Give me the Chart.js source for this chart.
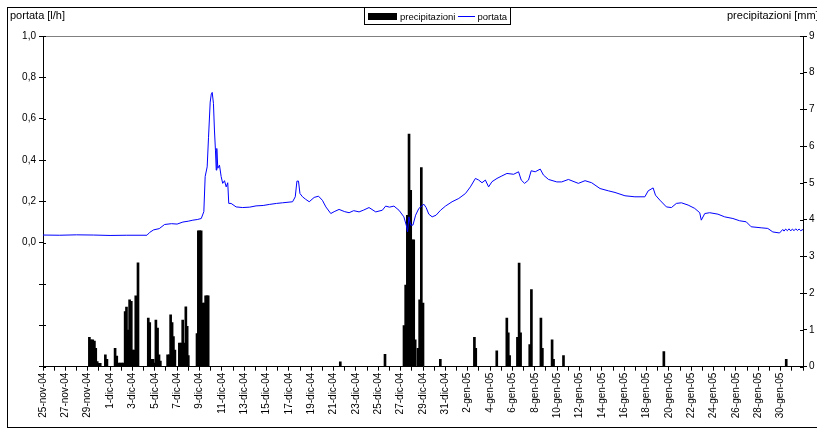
<!DOCTYPE html>
<html>
<head>
<meta charset="utf-8">
<script src="https://cdn.jsdelivr.net/npm/chart.js@4/dist/chart.umd.min.js"></script>
<style>
  html, body { margin: 0; padding: 0; background: #fff; }
  #wrap { width: 817px; height: 429px; position: relative; }
</style>
</head>
<body>
<div id="wrap"><canvas id="c" width="817" height="429"></canvas></div>
<script>
// Day offsets are counted from 25-nov-2004 00:00.
const startDate = Date.UTC(2004, 10, 25);
const monthNames = ['gen', 'feb', 'mar', 'apr', 'mag', 'giu', 'lug', 'ago', 'set', 'ott', 'nov', 'dic'];
const seriesNames = ['precipitazioni', 'portata'];
const leftTitle = 'portata [l/h]';
const rightTitle = 'precipitazioni [mm]';

// Discharge (l/h)
const flowDay = [0, 1.5, 3.0, 4.5, 6.0, 7.5, 9.3,
  9.55, 9.9, 10.4, 10.88, 11.5, 12.0, 12.52, 13.0, 13.41, 13.8, 14.16, 14.39, 14.51, 14.69, 14.81, 14.96, 15.06, 15.14, 15.25, 15.34, 15.43, 15.50, 15.55, 15.64, 15.79, 15.94, 16.08, 16.24, 16.39, 16.53, 16.62, 16.83, 17.28, 17.87, 18.5, 19.06, 19.7, 20.25, 20.9, 21.44, 22.33, 22.57, 22.72, 22.86, 22.99, 23.22, 23.5, 23.82, 24.26, 24.65, 25.0, 25.31, 25.75, 26.05, 26.49, 27.0, 27.39, 27.8, 28.28, 28.7, 29.17, 29.77, 30.36, 30.66, 31.0, 31.4, 31.85, 32.29, 32.5, 32.62, 32.74, 32.89, 33.10, 33.34, 33.63, 34.08, 34.28, 34.52, 34.82, 35.17, 35.57, 36.01, 36.6, 37.2, 37.8, 38.24, 38.69, 38.98, 39.28, 39.58, 39.87, 40.17, 40.62, 41.06, 41.51, 42.11, 42.55, 42.79, 43.09, 43.44, 43.68, 44.04, 44.49, 44.78, 45.23, 45.97, 46.41, 47.01, 47.9, 48.5, 49.09, 49.84, 50.58, 51.18, 52.07, 52.96, 53.85, 54.15, 54.59, 54.8, 55.19, 55.78, 56.23, 56.67, 57.12, 57.72, 58.31, 58.76, 58.9, 59.21, 59.65, 60.39, 60.99, 61.73, 62.33, 62.92, 63.36, 64.26, 64.85, 65.3, 65.9, 66.19, 66.3, 66.45, 66.6, 66.75, 66.9, 67.05, 67.2, 67.35, 67.5, 67.65, 67.8, 68];
const flowValue = [0.037, 0.036, 0.038, 0.037, 0.035, 0.036, 0.036,
  0.05, 0.062, 0.068, 0.088, 0.092, 0.09, 0.10, 0.104, 0.109, 0.112, 0.117, 0.15, 0.32, 0.367, 0.51, 0.68, 0.72, 0.727, 0.674, 0.545, 0.448, 0.351, 0.456, 0.36, 0.375, 0.32, 0.287, 0.30, 0.27, 0.29, 0.19, 0.19, 0.173, 0.17, 0.172, 0.178, 0.18, 0.185, 0.19, 0.193, 0.198, 0.222, 0.298, 0.298, 0.238, 0.222, 0.21, 0.198, 0.219, 0.225, 0.205, 0.173, 0.141, 0.15, 0.161, 0.15, 0.145, 0.155, 0.149, 0.158, 0.17, 0.149, 0.157, 0.177, 0.172, 0.177, 0.157, 0.125, 0.085, 0.052, 0.125, 0.085, 0.085, 0.133, 0.166, 0.186, 0.17, 0.138, 0.125, 0.133, 0.157, 0.177, 0.198, 0.214, 0.238, 0.27, 0.311, 0.303, 0.29, 0.303, 0.27, 0.295, 0.311, 0.323, 0.335, 0.331, 0.343, 0.303, 0.287, 0.303, 0.348, 0.343, 0.356, 0.327, 0.306, 0.294, 0.294, 0.306, 0.287, 0.3, 0.29, 0.262, 0.251, 0.243, 0.227, 0.222, 0.222, 0.251, 0.265, 0.23, 0.206, 0.173, 0.17, 0.19, 0.193, 0.182, 0.166, 0.145, 0.109, 0.141, 0.145, 0.138, 0.125, 0.117, 0.106, 0.101, 0.077, 0.072, 0.069, 0.052, 0.047, 0.064, 0.056, 0.066, 0.058, 0.067, 0.057, 0.066, 0.058, 0.067, 0.059, 0.066, 0.058, 0.064];

// Rainfall (mm)
const rainDay = [4.15, 4.3, 4.45, 4.6, 4.72, 4.85, 5.0, 5.12, 5.58, 5.72,
  6.45, 6.6, 6.75, 6.9, 7.05, 7.2, 7.35, 7.47, 7.6, 7.75, 7.9, 8.0, 8.15, 8.3, 8.5,
  9.42, 9.55, 9.7, 9.85, 9.98, 10.1, 10.25, 10.38, 10.5,
  11.15, 11.3, 11.42, 11.55, 11.67, 11.8,
  12.2, 12.35, 12.5, 12.62, 12.78, 12.9, 13.0,
  13.78, 13.9, 14.02, 14.15, 14.3, 14.45, 14.55, 14.68, 14.78,
  26.6, 30.6,
  32.3, 32.45, 32.6, 32.75, 32.9, 33.03, 33.17, 33.3, 33.55, 33.7, 33.85, 34.0,
  35.55, 38.6, 38.72, 40.6, 41.5, 41.63, 41.75, 42.45, 42.6, 42.73,
  43.55, 43.7, 44.55, 44.68, 45.55, 45.68, 46.57, 55.55, 66.5];
const rainMm = [0.80, 0.73, 0.73, 0.70, 0.50, 0.14, 0.09, 0.09, 0.32, 0.20,
  0.50, 0.29, 0.10, 0.10, 0.10, 0.10, 1.50, 1.62, 1.0, 1.82, 1.78, 0.45, 0.45, 1.93, 2.83,
  1.32, 1.2, 0.2, 0.2, 0.1, 1.27, 1.05, 0.32, 0.15,
  0.32, 0.32, 1.41, 1.2, 0.82, 0.45,
  0.64, 0.64, 1.27, 0.64, 1.63, 1.1, 0.3,
  0.9, 3.7, 3.7, 3.7, 1.73, 1.73, 1.93, 1.93, 1.93,
  0.13, 0.34,
  1.12, 2.22, 4.12, 6.33, 4.8, 3.45, 3.45, 0.73, 0.5, 1.82, 5.42, 1.73,
  0.2, 0.8, 0.5, 0.43, 1.32, 0.92, 0.3, 0.8, 2.82, 0.92,
  0.6, 2.1, 1.32, 0.5, 0.73, 0.2, 0.3, 0.41, 0.2];

const flowLeftTicks = { min: -0.6, max: 1.0, step: 0.2 };
const rainRightTicks = { min: 0, max: 9, step: 1 };
const dayRange = { min: 0, max: 68 };

function dayLabel(d) {
  const dt = new Date(startDate + d * 86400000);
  const yy = String(dt.getUTCFullYear() % 100).padStart(2, '0');
  return dt.getUTCDate() + '-' + monthNames[dt.getUTCMonth()] + '-' + yy;
}

const FONT = '"Liberation Sans", Arial, sans-serif';

// Frame, plot-area top edge, inner tick halves, axis titles and legend
const decorations = {
  id: 'decorations',
  afterDraw(chart) {
    const ctx = chart.ctx;
    const a = chart.chartArea;
    ctx.save();
    // outer frame
    ctx.strokeStyle = '#000';
    ctx.lineWidth = 1;
    ctx.strokeRect(7.5, 7.5, 830, 420);
    // plot area top edge
    ctx.strokeStyle = '#808080';
    ctx.beginPath();
    ctx.moveTo(a.left, Math.round(a.top) + 0.5);
    ctx.lineTo(a.right, Math.round(a.top) + 0.5);
    ctx.stroke();
    // inner halves of the axis ticks
    ctx.strokeStyle = '#000';
    const yl = chart.scales.y, yr = chart.scales.y2;
    ctx.beginPath();
    yl.ticks.forEach(t => {
      const p = Math.round(yl.getPixelForValue(t.value)) + 0.5;
      ctx.moveTo(a.left, p); ctx.lineTo(a.left + 3, p);
    });
    yr.ticks.forEach(t => {
      const p = Math.round(yr.getPixelForValue(t.value)) + 0.5;
      ctx.moveTo(a.right - 3, p); ctx.lineTo(a.right, p);
    });
    ctx.stroke();
    // axis titles
    ctx.fillStyle = '#000';
    ctx.font = '11px ' + FONT;
    ctx.textBaseline = 'alphabetic';
    ctx.textAlign = 'left';
    ctx.fillText(leftTitle, 10, 19);
    ctx.fillText(rightTitle, 727, 19);
    // legend
    ctx.font = '9.5px ' + FONT;
    ctx.strokeRect(364.5, 7.5, 146, 17);
    ctx.fillRect(368, 13, 29, 7);
    ctx.fillText(seriesNames[0], 400, 20);
    ctx.strokeStyle = '#0000FF';
    ctx.beginPath();
    ctx.moveTo(458, 16.5); ctx.lineTo(475, 16.5);
    ctx.stroke();
    ctx.fillText(seriesNames[1], 477.5, 20);
    ctx.restore();
  }
};

const tickFont = { family: FONT, size: 10 };

new Chart(document.getElementById('c'), {
  type: 'bar',
  data: {
    datasets: [
      {
        type: 'line',
        label: seriesNames[1],
        data: flowDay.map((d, i) => ({ x: d, y: flowValue[i] })),
        borderColor: '#0000FF',
        borderWidth: 1,
        pointRadius: 0,
        tension: 0,
        fill: false,
        yAxisID: 'y',
        order: 0
      },
      {
        type: 'bar',
        label: seriesNames[0],
        data: rainDay.map((d, i) => ({ x: d, y: rainMm[i] })),
        backgroundColor: '#000',
        borderWidth: 0,
        barThickness: 2,
        yAxisID: 'y2',
        order: 1
      }
    ]
  },
  options: {
    responsive: false,
    animation: false,
    devicePixelRatio: 1,
    layout: { padding: { top: 36, left: 0, right: 0, bottom: 0 } },
    plugins: { legend: { display: false }, tooltip: { enabled: false } },
    scales: {
      x: {
        type: 'linear',
        min: dayRange.min,
        max: dayRange.max,
        offset: false,
        afterFit(s) { s.height = 62.3; },
        grid: { drawOnChartArea: false, offset: false, color: '#000', tickLength: 4 },
        border: { color: '#000', width: 1 },
        ticks: {
          stepSize: 1,
          autoSkip: false,
          minRotation: 90,
          maxRotation: 90,
          padding: 2,
          color: '#000',
          font: tickFont,
          callback: v => (v % 2 === 0 && v < dayRange.max) ? dayLabel(v) : ''
        }
      },
      y: {
        position: 'left',
        min: flowLeftTicks.min,
        max: flowLeftTicks.max,
        afterFit(s) { s.width = 43; },
        grid: { drawOnChartArea: false, color: '#000', tickLength: 4 },
        border: { color: '#000', width: 1 },
        ticks: {
          stepSize: flowLeftTicks.step,
          padding: 3,
          color: '#000',
          font: tickFont,
          callback: v => v >= -1e-9 ? v.toFixed(1).replace('.', ',') : ''
        }
      },
      y2: {
        position: 'right',
        min: rainRightTicks.min,
        max: rainRightTicks.max,
        afterFit(s) { s.width = 13; },
        grid: { drawOnChartArea: false, color: '#000', tickLength: 4 },
        border: { color: '#000', width: 1 },
        ticks: {
          stepSize: rainRightTicks.step,
          padding: 2,
          color: '#000',
          font: tickFont,
          callback: v => String(v)
        }
      }
    }
  },
  plugins: [decorations]
});
</script>
</body>
</html>
